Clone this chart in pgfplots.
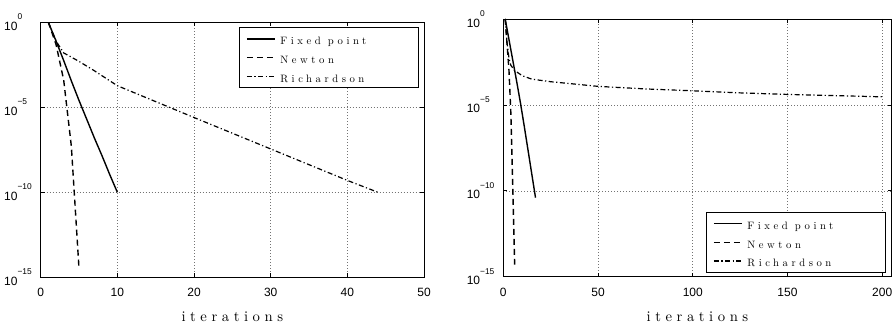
\documentclass[border=0pt]{standalone}
\usepackage{pgfplots}
\pgfplotsset{compat=1.18}
\usepackage{fontspec}
\newfontfamily\ticksf{Liberation Sans}
\newfontfamily\lmleg{lmroman10-regular.otf}[LetterSpace=33]
\newfontfamily\lmlab{lmroman10-regular.otf}[LetterSpace=31]
\newcommand\tickfont{\ticksf\fontsize{12bp}{14bp}\selectfont}
\newcommand\legfont{\lmleg\fontsize{10.7bp}{12bp}\selectfont}
\newcommand\labfont{\lmlab\fontsize{14.7bp}{16bp}\selectfont}
\newcommand\pw[1]{10\raisebox{10.5bp}{\fontsize{8.4bp}{9bp}\selectfont #1}}
\newcommand\legtxt[1]{\makebox[131.5bp][l]{\legfont #1}}
\tikzset{
  fpline/.style={black, line width=1.4bp, solid},
  nwline/.style={black, line width=1.4bp, dash pattern=on 6bp off 4bp},
  rcline/.style={black, line width=1.2bp, dash pattern=on 5bp off 2.5bp on 1.2bp off 2.5bp},
}
\pgfplotsset{
  every axis/.append style={
    scale only axis, anchor=south west,
    ymode=log, ymin=1e-15, ymax=1,
    ytick={1e-15,1e-10,1e-5,1},
    yticklabels={\pw{−15},\pw{−10},\pw{−5},\pw{0}},
    tick align=inside, major tick length=4bp, minor tick length=0pt,
    grid=major,
    major grid style={line width=0.6bp, black!55, dash pattern=on 0.7bp off 2.3bp},
    axis line style={line width=0.9bp},
    every tick/.style={black, line width=0.8bp},
    tick label style={font=\tickfont},
    yticklabel style={anchor=west, inner sep=0pt, xshift=-36.7bp},
    xticklabel style={anchor=north, inner sep=0pt, yshift=-11bp},
    xlabel={iterations},
    xlabel style={at={(axis description cs:0.5,0)}, anchor=base, inner sep=0pt, yshift=-44.4bp, font=\labfont},
    legend cell align=left,
    legend image code/.code={\draw[#1] (0bp,0bp) -- (28bp,0bp);},
    legend style={draw=black, line width=0.9bp, font=\legfont, inner xsep=6.7bp, inner ysep=5.5bp,
      row sep=7.2bp, column sep=4.7bp,
      nodes={inner sep=0pt, text height=11.5bp, text depth=0bp}},
  },
}
\begin{document}
\begin{tikzpicture}
\begin{axis}[at={(40.7bp,47.7bp)}, width=383.3bp, height=255bp,
  legend style={at={(rel axis cs:1,1)}, anchor=north east, xshift=-5bp, yshift=-5bp},
  xmin=0, xmax=50, xtick={0,10,20,30,40,50}, xticklabels={0,10,20,30,40,50}]
\addplot[fpline] coordinates {(1,1) (2,7.94e-2) (3,5.62e-3) (4,3.55e-4) (5,2.51e-5) (6,2.00e-6) (7,1.58e-7) (8,1.41e-8) (9,1.12e-9) (10,1e-10)};
\addlegendentry{\legtxt{Fixed point}}
\addplot[nwline] coordinates {(1,1) (2,5.01e-2) (3,3.98e-4) (4,5.01e-8) (5,3.16e-15)};
\addlegendentry{\legtxt{Newton}}
\addplot[rcline] coordinates {(1,1) (2,7.94e-2) (3,1.58e-2) (5,5.01e-3) (7,1.41e-3) (10,1.86e-4) (20,2.51e-6) (30,3.55e-8) (40,5.01e-10) (44,1e-10)};
\addlegendentry{\legtxt{Richardson}}
\end{axis}
\begin{axis}[at={(503.3bp,48.3bp)}, width=388.4bp, height=257.7bp,
  legend style={at={(rel axis cs:1,0)}, anchor=south east, xshift=-5.7bp, yshift=4bp},
  xmin=0, xmax=205, xtick={0,50,100,150,200}, xticklabels={0,50,100,150,200}]
\addplot[fpline] coordinates {(1,1) (3,6.31e-2) (5,3.98e-3) (7,2.51e-4) (9,1.41e-5) (11,6.31e-7) (13,2.51e-8) (15,1e-9) (17,3.98e-11)};
\addlegendentry{\legtxt{Fixed point}}
\addplot[nwline] coordinates {(1,1) (2,3.16e-2) (3,1e-3) (4,3.16e-6) (5,1.58e-10) (6,5.01e-15)};
\addlegendentry{\legtxt{Newton}}
\addplot[rcline] coordinates {(1,1) (2,3.98e-2) (3,5.01e-3) (4,2.00e-3) (6,1e-3) (10,5.01e-4) (15,3.16e-4) (25,2.24e-4) (50,1.20e-4) (75,8.51e-5) (100,6.61e-5) (125,5.01e-5) (150,4.07e-5) (175,3.47e-5) (200,2.95e-5)};
\addlegendentry{\legtxt{Richardson}}
\end{axis}
\pgfresetboundingbox
\path[use as bounding box] (0,0) rectangle (896bp,325bp);
\end{tikzpicture}
\end{document}
